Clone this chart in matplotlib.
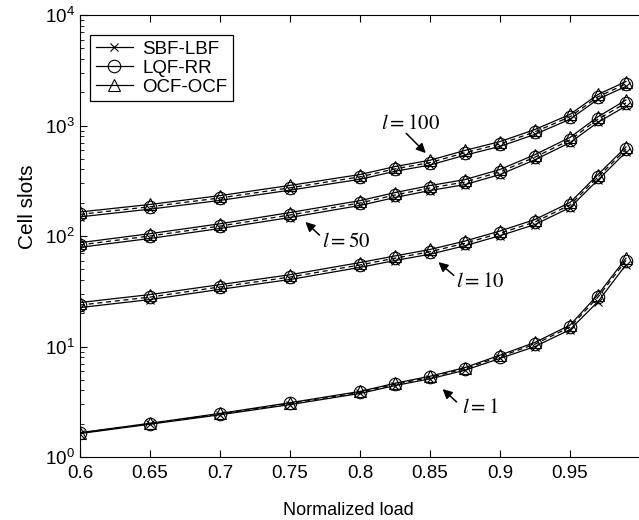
import numpy as np
import matplotlib
matplotlib.use('Agg')
import matplotlib.pyplot as plt

plt.rcParams['font.family'] = ['Liberation Sans', 'DejaVu Sans']
plt.rcParams['mathtext.fontset'] = 'stix'

load = [0.6, 0.65, 0.7, 0.75, 0.8, 0.825, 0.85, 0.875, 0.9, 0.925, 0.95, 0.97, 0.99]

# l = 100
ocf_100 = [165, 193, 232, 287, 360, 425, 485, 595, 715, 920, 1260, 1910, 2500]
lqf_100 = [157, 184, 221, 273, 343, 405, 462, 567, 681, 876, 1200, 1820, 2380]
sbf_100 = [149, 175, 210, 260, 326, 385, 439, 539, 647, 832, 1140, 1730, 2260]
# l = 50
ocf_50 = [87, 105, 129, 163, 209, 247, 286, 324, 400, 545, 780, 1200, 1700]
lqf_50 = [83, 100, 123, 155, 199, 235, 272, 308, 380, 517, 740, 1140, 1600]
sbf_50 = [79, 95, 117, 147, 189, 223, 258, 292, 360, 490, 700, 1070, 1500]
# l = 10
ocf_10 = [25, 29.5, 36.3, 44.6, 57.5, 66, 75.5, 90, 111, 141, 201, 360, 640]
lqf_10 = [23.7, 28, 34.6, 42.5, 54.7, 63, 72, 86, 106, 134, 191, 342, 610]
sbf_10 = [22.5, 26.6, 32.9, 40.4, 52, 60, 68.4, 81.7, 100.7, 127, 181, 322, 575]
# l = 1
ocf_1 = [1.66, 2.02, 2.48, 3.1, 3.92, 4.65, 5.38, 6.45, 8.35, 10.9, 15.6, 29.5, 63]
lqf_1 = [1.65, 2.0, 2.45, 3.05, 3.85, 4.55, 5.25, 6.3, 8.1, 10.5, 15.0, 28.0, 60]
sbf_1 = [1.63, 1.98, 2.41, 2.98, 3.76, 4.43, 5.1, 6.1, 7.8, 10.0, 14.2, 25.5, 55]

xticks = [0.6, 0.65, 0.7, 0.75, 0.8, 0.85, 0.9, 0.95]
xticklabels = ['0.6', '0.65', '0.7', '0.75', '0.8', '0.85', '0.9', '0.95']

fig = plt.figure(figsize=(6.39, 5.2), dpi=100)
ax = fig.add_axes([80/639, 1-457/520, 560/639, 442/520])

groups = [(sbf_100, lqf_100, ocf_100), (sbf_50, lqf_50, ocf_50),
          (sbf_10, lqf_10, ocf_10), (sbf_1, lqf_1, ocf_1)]
for i, (s, q, o) in enumerate(groups):
    ax.plot(load, s, color='k', lw=0.9, marker='x', ms=6, mew=0.8,
            label='SBF-LBF' if i == 0 else None)
    ax.plot(load, q, color='k', lw=0.9, ls=(0, (4, 3)), marker='o', ms=9,
            mfc='none', mew=0.8, label='LQF-RR' if i == 0 else None)
    ax.plot(load, o, color='k', lw=0.9, marker='^', ms=9, mfc='none',
            mew=0.8, label='OCF-OCF' if i == 0 else None)

ax.set_yscale('log')
ax.set_xlim(0.6, 1.0)
ax.set_ylim(1, 1e4)
ax.set_xticks(xticks)
ax.set_xticklabels(xticklabels)
ax.tick_params(axis='both', which='both', direction='in', top=True, right=False,
               labelsize=13.5)
ax.tick_params(axis='both', which='major', length=5)
ax.tick_params(axis='y', which='minor', length=3)
ax.tick_params(axis='x', pad=6)
ax.spines['right'].set_visible(False)
ax.set_xlabel('Normalized load', fontsize=13, labelpad=14, x=0.479)
ax.set_ylabel('Cell slots', fontsize=15, labelpad=6, y=0.566)

leg = ax.legend(loc='upper left', bbox_to_anchor=(0.018, 0.955), borderaxespad=0,
                fontsize=13.5, frameon=True, fancybox=False, edgecolor='k',
                framealpha=1, handlelength=2.0, handletextpad=0.5,
                borderpad=0.3, labelspacing=0.1)
leg.get_frame().set_linewidth(0.9)
for h in leg.get_lines():
    h.set_linestyle('-')

# annotations
notes = [('$l = 100$', (0.836, 1050), (0.847, 563), (0.833, 850)),
         ('$l = 50$', (0.790, 90), (0.761, 134), (0.771, 102)),
         ('$l = 10$', (0.886, 39), (0.856, 58), (0.867, 44)),
         ('$l = 1$', (0.886, 2.78), (0.859, 4.12), (0.869, 3.15))]
for txt, tpos, tip, tail in notes:
    ax.text(tpos[0], tpos[1], txt, fontsize=15, ha='center', va='center')
    ax.annotate('', xy=tip, xytext=tail,
                arrowprops=dict(arrowstyle='-|>', color='k', lw=1.1,
                                mutation_scale=14, shrinkA=0, shrinkB=0))

fig.savefig('out.png', dpi=100)
